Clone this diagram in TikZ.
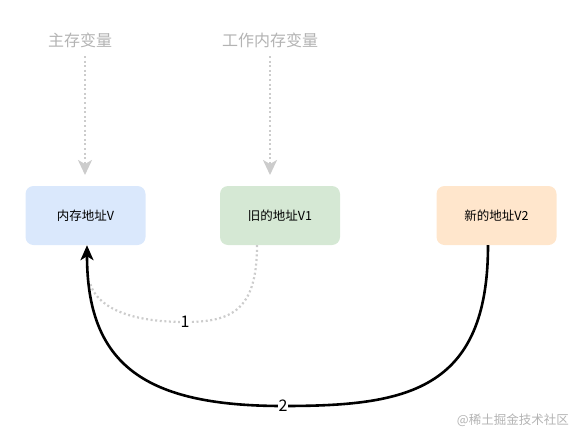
\documentclass[tikz,border=0pt]{standalone}
\usepackage{fontspec}
\setmainfont{Noto Sans CJK SC}
\usetikzlibrary{arrows.meta}
\definecolor{bluef}{HTML}{DAE8FC}
\definecolor{greenf}{HTML}{D5E8D4}
\definecolor{orangef}{HTML}{FFE6CC}
\definecolor{lightgray}{HTML}{B3B3B3}
\definecolor{dotgray}{HTML}{CCCCCC}
\begin{document}
\begin{tikzpicture}[x=1pt,y=-1pt,
  box/.style={rounded corners=8pt,minimum width=120pt,minimum height=59pt,inner sep=0pt,font=\fontsize{12.5}{14}\selectfont},
  toplabel/.style={text=lightgray,font=\fontsize{16}{18}\selectfont,inner sep=0pt},
  dotarrow/.style={draw=dotgray,line width=2.2pt,dash pattern=on 2pt off 2.6pt,-{Stealth[length=15pt,width=14pt,fill=dotgray,inset=4pt]}},
  dotline/.style={draw=dotgray,line width=2.2pt,dash pattern=on 2pt off 2.6pt},
  blackarrow/.style={draw=black,line width=2.6pt,-{Stealth[length=15pt,width=13pt,inset=4pt]}},
  numlabel/.style={fill=white,inner sep=1pt,font=\fontsize{16}{18}\selectfont}]
\useasboundingbox (0,0) rectangle (581,442);
\node[box,fill=bluef] (a) at (85.5,215.5) {内存地址V};
\node[box,fill=greenf] (b) at (280,215.5) {旧的地址V1};
\node[box,fill=orangef] (c) at (496.5,215.5) {新的地址V2};
\node[toplabel] (t1) at (80,40) {主存变量};
\node[toplabel] (t2) at (270,40) {工作内存变量};
\coordinate (t1e) at (85,175);
\coordinate (t2e) at (270,175);
\draw[dotarrow] (85,56) -- (t1e);
\draw[dotarrow] (270,56) -- (t2e);
% curve 1 (dotted)
\draw[dotline] ([xshift=-23pt]b.south) .. controls (257,310) and (232,322) .. (185,322)
  node[numlabel] (n1) {1}
  .. controls (125,322) and (96,305) .. (90,283);
% curve 2 (black)
\draw[blackarrow] ([xshift=-8.5pt]c.south) .. controls (488,392) and (405,406) .. (283,406)
  node[numlabel] (n2) {2}
  .. controls (145,406) and (87,365) .. ([xshift=1.5pt]a.south);
\node[text=lightgray,font=\fontsize{12.5}{14}\selectfont,anchor=east,inner sep=0pt] (wm) at (569,420) {@稀土掘金技术社区};
\end{tikzpicture}
\end{document}
